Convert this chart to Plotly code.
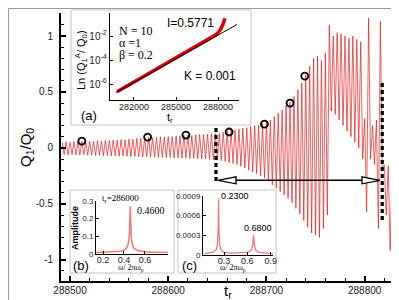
import plotly.graph_objects as go

# ---------------- data ----------------
# main signal: successive extrema (peak, trough, ...) of Q1/Q0 versus t_r
t_ext = [
    288492, 288494, 288496, 288498, 288500, 288502, 288504, 288506, 288508, 288510,
    288512, 288514, 288516, 288518, 288520, 288522, 288524, 288526, 288528, 288530,
    288532, 288534, 288536, 288538, 288540, 288542, 288544, 288546, 288548, 288550,
    288552, 288554, 288556, 288558, 288560, 288562, 288564, 288566, 288568, 288570,
    288572, 288574, 288576, 288578, 288580, 288582, 288584, 288586, 288588, 288590,
    288592, 288594, 288596, 288598, 288600, 288602, 288604, 288606, 288608, 288610,
    288612, 288614, 288616, 288618, 288620, 288622, 288624, 288626, 288628, 288630,
    288632, 288634, 288636, 288638, 288640, 288642, 288644, 288646, 288648, 288650,
    288652, 288654, 288656, 288658, 288660, 288662, 288664, 288666, 288668, 288670,
    288672, 288674, 288676, 288678, 288680, 288682, 288684, 288686, 288688, 288690,
    288692, 288694, 288696, 288698, 288700, 288702, 288704, 288706, 288708, 288710,
    288712, 288714, 288716, 288718, 288720, 288722, 288724, 288726, 288728, 288730,
    288732, 288734, 288736, 288738, 288740, 288742, 288744, 288746, 288748, 288750,
    288752, 288754, 288756, 288758, 288760, 288762, 288764, 288766, 288768, 288770,
    288772, 288774, 288776, 288778, 288780, 288782, 288784, 288786, 288788, 288790,
    288792, 288794, 288796, 288798, 288800, 288802, 288804, 288806, 288808, 288810,
    288812, 288814, 288816, 288818, 288820, 288822, 288824, 288826, 288828, 288830,
    288832, 288834, 288836, 288838, 288840, 288842,
]
q_ext = [
    0.050, -0.060, 0.055, -0.065, 0.050, -0.060, 0.058, -0.062, 0.055, -0.065,
    0.062, -0.060, 0.055, -0.066, 0.060, -0.064, 0.058, -0.068, 0.065, -0.066,
    0.060, -0.070, 0.068, -0.068, 0.065, -0.072, 0.070, -0.070, 0.068, -0.074,
    0.075, -0.072, 0.072, -0.075, 0.080, -0.078, 0.078, -0.076, 0.085, -0.080,
    0.088, -0.082, 0.092, -0.080, 0.097, -0.084, 0.090, -0.082, 0.095, -0.085,
    0.100, -0.083, 0.098, -0.087, 0.102, -0.085, 0.100, -0.090, 0.105, -0.088,
    0.108, -0.092, 0.112, -0.090, 0.115, -0.095, 0.110, -0.093, 0.115, -0.097,
    0.120, -0.100, 0.118, -0.098, 0.122, -0.102, 0.125, -0.105, 0.128, -0.108,
    0.130, -0.115, 0.140, -0.120, 0.150, -0.130, 0.155, -0.140, 0.160, -0.150,
    0.170, -0.165, 0.175, -0.180, 0.180, -0.200, 0.190, -0.215, 0.200, -0.230,
    0.205, -0.250, 0.215, -0.270, 0.230, -0.300, 0.250, -0.330, 0.280, -0.360,
    0.310, -0.390, 0.340, -0.420, 0.380, -0.450, 0.410, -0.490, 0.460, -0.540,
    0.520, -0.590, 0.580, -0.650, 0.650, -0.710, 0.730, -0.760, 0.800, -0.780,
    0.820, -0.800, 0.780, -0.720, 0.850, -0.600, 1.100, 0.330, 1.000, 0.300,
    1.030, 0.250, 1.020, 0.200, 1.000, 0.150, 0.980, 0.100, 1.000, 0.050,
    0.970, 0.000, 0.950, -0.100, 0.260, -0.570, 1.160, -0.100, 0.200, -0.150,
    0.250, -0.720, 1.130, -0.200, -0.150, -0.600, -0.160, -0.920, -0.150, -1.100,
    -0.140, -0.950, -0.180, -1.100, -0.170, -1.050,
]
circle_t = [288512, 288579, 288618, 288662, 288698, 288724, 288739]
circle_q = [0.061, 0.097, 0.115, 0.142, 0.213, 0.401, 0.642]

main_xticks = [288500, 288600, 288700, 288800]
main_xlabels = ["288500", "288600", "288700", "288800"]
main_yticks = [-1, -0.5, 0, 0.5, 1]
main_ylabels = ["-1", "-0.5", "0", "0.5", "1"]

# markers of the interval (dashed lines) and arrow
dash1_t, dash1_q = 288648.6, [0.177, -0.314]
dash2_t, dash2_q = 288817.9, [0.58, -0.645]
arrow_t = [288650.7, 288815.6]
arrow_q = -0.29

# inset (a): growth of Q1^A/Q0 (log scale)
a_t = [280790, 282000, 283000, 284000, 285000, 286000, 287000, 287500, 287900, 288150, 288350, 288500]
a_q = [2.3e-7, 1.5e-6, 7.0e-6, 3.2e-5, 1.45e-4, 6.6e-4, 3.0e-3, 6.5e-3, 1.4e-2, 3.2e-2, 9.0e-2, 3.0e-1]
fit_t = [280715, 289354]
fit_q = [1.95e-7, 9.1e-2]
a_xticks = [282000, 285000, 288000]
a_xlabels = ["282000", "285000", "288000"]
a_yticks = [1e-6, 1e-4, 1e-2]
a_ylabels = ["10<sup>-6</sup>", "10<sup>-4</sup>", "10<sup>-2</sup>"]

# inset (b): spectrum at t_r = 286000
b_f = [0.13, 0.20, 0.30, 0.36, 0.40, 0.42, 0.44, 0.45, 0.455, 0.46, 0.465, 0.47, 0.48, 0.50, 0.53, 0.60, 0.70, 0.82]
b_a = [0.008, 0.010, 0.012, 0.016, 0.022, 0.030, 0.055, 0.10, 0.18, 0.27, 0.17, 0.09, 0.05, 0.03, 0.02, 0.013, 0.010, 0.008]
b_xticks = [0.2, 0.4, 0.6]
b_yticks = [0, 0.1, 0.2, 0.3]
b_ylabels = ["0", "0.1", "0.2", "0.3"]

# inset (c): spectrum inside the interval
c_f = [0.05, 0.10, 0.15, 0.20, 0.215, 0.225, 0.23, 0.235, 0.245, 0.26, 0.30, 0.40, 0.50, 0.60, 0.65, 0.67, 0.68, 0.69, 0.71, 0.75, 0.85, 0.93]
c_a = [0.00002, 0.00003, 0.00004, 0.00008, 0.00015, 0.0004, 0.00086, 0.0004, 0.00015, 0.00008, 0.00004, 0.00003,
       0.00003, 0.00004, 0.00007, 0.00015, 0.0003, 0.00015, 0.00007, 0.00004, 0.00003, 0.00002]
c_xticks = [0.3, 0.6, 0.9]
c_yticks = [0, 0.0003, 0.0006, 0.0009]
c_ylabels = ["0", "0.0003", "0.0006", "0.0009"]

# ---------------- layout helpers ----------------
W, H = 399, 300
ML, MR, MT, MB = 53, 1, 5, 27
PW, PH = W - ML - MR, H - MT - MB


def px(x):
    return (x - ML) / PW


def py(y):
    return (H - MB - y) / PH


SANS = "Liberation Sans, Arial, sans-serif"
SERIF = "Liberation Serif, Times New Roman, serif"
PINK = "#f07a7a"

fig = go.Figure()

fig.add_trace(go.Scatter(x=t_ext, y=q_ext, mode="lines",
                         line=dict(color="rgba(226,24,24,0.85)", width=0.8),
                         xaxis="x", yaxis="y", showlegend=False))
fig.add_trace(go.Scatter(x=circle_t, y=circle_q, mode="markers",
                         marker=dict(symbol="circle-open", size=7, color="black", line=dict(width=1.8)),
                         xaxis="x", yaxis="y", showlegend=False))

# inset (a)
fig.add_trace(go.Scatter(x=a_t, y=a_q, mode="lines", line=dict(color="#d80000", width=3.5),
                         xaxis="x2", yaxis="y2", showlegend=False))
fig.add_trace(go.Scatter(x=fit_t, y=fit_q, mode="lines", line=dict(color="black", width=1),
                         xaxis="x2", yaxis="y2", showlegend=False))
# inset (b)
fig.add_trace(go.Scatter(x=b_f, y=b_a, mode="lines", line=dict(color=PINK, width=1.5),
                         xaxis="x3", yaxis="y3", showlegend=False))
# inset (c)
fig.add_trace(go.Scatter(x=c_f, y=c_a, mode="lines", line=dict(color=PINK, width=1.3),
                         xaxis="x4", yaxis="y4", showlegend=False))


def inset_axis(**kw):
    base = dict(showline=True, linecolor="black", linewidth=1, ticks="inside", ticklen=3,
                tickcolor="black", tickwidth=1, showgrid=False, zeroline=False, automargin=False,
                tickfont=dict(family=SANS, size=8, color="#222"), tickmode="array")
    base.update(kw)
    return base


fig.update_layout(
    width=W, height=H, margin=dict(l=ML, r=MR, t=MT, b=MB, autoexpand=False),
    paper_bgcolor="white", plot_bgcolor="white", showlegend=False,
    xaxis=dict(domain=[0, 1], anchor="y", range=[288490.8, 288842.1], automargin=False,
               tickmode="array", tickvals=main_xticks, ticktext=main_xlabels,
               ticks="inside", ticklen=5, tickwidth=1.5, tickcolor="black",
               minor=dict(tickmode="linear", tick0=288500, dtick=20, ticks="inside", ticklen=3,
                          tickcolor="black", tickwidth=1),
               showline=True, linecolor="black", linewidth=2, showgrid=False, zeroline=False,
               ticklabelstandoff=-1,
               tickfont=dict(family=SANS, size=10, color="#222")),
    yaxis=dict(domain=[0, 1], anchor="x", range=[-1.19, 1.206], automargin=False,
               tickmode="array", tickvals=main_yticks, ticktext=main_ylabels,
               ticks="inside", ticklen=5, tickwidth=1.5, tickcolor="black",
               minor=dict(tickmode="linear", tick0=0, dtick=0.1, ticks="inside", ticklen=3,
                          tickcolor="black", tickwidth=1),
               showline=True, linecolor="black", linewidth=2, showgrid=False, zeroline=False,
               ticklabelstandoff=4,
               tickfont=dict(family=SANS, size=10, color="#222")),
    xaxis2=inset_axis(domain=[px(101.7), px(231)], anchor="y2", range=[280265, 289500],
                      tickvals=a_xticks, ticktext=a_xlabels, ticklabelstandoff=-2,
                      tickfont=dict(family=SANS, size=9, color="#222")),
    yaxis2=inset_axis(domain=[py(92), py(5)], anchor="x2", type="log", range=[-7.33, -0.08],
                      tickvals=a_yticks, ticktext=a_ylabels,
                      tickfont=dict(family=SANS, size=10, color="#222")),
    xaxis3=inset_axis(domain=[px(88), px(160)], anchor="y3", range=[0.133, 0.82],
                      tickvals=b_xticks, ticktext=["0.2", "0.4", "0.6"], ticklabelstandoff=-3,
                      tickfont=dict(family=SANS, size=9, color="#222")),
    yaxis3=inset_axis(domain=[py(246), py(193)], anchor="x3", range=[0, 0.3],
                      tickvals=b_yticks, ticktext=b_ylabels),
    xaxis4=inset_axis(domain=[px(195), px(265)], anchor="y4", range=[0.03, 0.93],
                      tickvals=c_xticks, ticktext=["0.3", "0.6", "0.9"], ticklabelstandoff=-3,
                      tickfont=dict(family=SANS, size=9, color="#222")),
    yaxis4=inset_axis(domain=[py(247), py(188)], anchor="x4", range=[0, 0.0009],
                      tickvals=c_yticks, ticktext=c_ylabels),
)

shapes = []
# outer frame
shapes.append(dict(type="rect", xref="paper", yref="paper", x0=px(0.5), x1=px(398.5), y0=py(299.5), y1=py(0.5),
                   line=dict(color="#9a9a9a", width=1), fillcolor="rgba(0,0,0,0)", layer="below"))
# inset boxes
for (x0, y0, x1, y1) in [(63, 2, 243, 117), (62, 182, 166, 265), (170, 182, 268, 265)]:
    shapes.append(dict(type="rect", xref="paper", yref="paper", x0=px(x0), x1=px(x1), y0=py(y1), y1=py(y0),
                       line=dict(color="#c4c4c4", width=1), fillcolor="white", layer="below"))
# dashed vertical lines
for t0, qq in [(dash1_t, dash1_q), (dash2_t, dash2_q)]:
    shapes.append(dict(type="line", xref="x", yref="y", x0=t0, x1=t0, y0=qq[0], y1=qq[1],
                       line=dict(color="black", width=3.2, dash="4px,3px")))
# arrow shaft
shapes.append(dict(type="line", xref="x", yref="y", x0=arrow_t[0] + 15, x1=arrow_t[1] - 15, y0=arrow_q, y1=arrow_q,
                   line=dict(color="black", width=1.5)))
# arrow heads (open triangles): 1 px = 1.018 t-units horizontally, 0.00894 q-units vertically
hx, hy = 18 * 1.018, 3.5 * 0.00894
l0, r0 = arrow_t
shapes.append(dict(type="path", xref="x", yref="y",
                   path=f"M {l0},{arrow_q} L {l0 + hx},{arrow_q + hy} L {l0 + hx},{arrow_q - hy} Z",
                   line=dict(color="black", width=1.3), fillcolor="white"))
shapes.append(dict(type="path", xref="x", yref="y",
                   path=f"M {r0},{arrow_q} L {r0 - hx},{arrow_q + hy} L {r0 - hx},{arrow_q - hy} Z",
                   line=dict(color="black", width=1.3), fillcolor="white"))
fig.update_layout(shapes=shapes)


def ann(text, x, y, size=10, family=SANS, xanchor="left", angle=0, color="black"):
    return dict(text=text, x=px(x), y=py(y), xref="paper", yref="paper", showarrow=False,
                xanchor=xanchor, yanchor="middle", textangle=angle,
                font=dict(family=family, size=size, color=color))


annotations = [
    ann("Q<sub>1</sub>/Q<sub>0</sub>", 18, 140, size=15, xanchor="center", angle=-90),
    ann("t<sub>r</sub>", 220, 283, size=15, xanchor="center"),
    # inset (a)
    ann("Ln (Q<sub>1</sub><sup>A</sup>/ Q<sub>0</sub>)", 73, 52, size=11, xanchor="center", angle=-90),
    ann("t<sub>r</sub>", 162, 110, size=11, xanchor="center"),
    ann("N = 10", 109, 23, size=12, family=SERIF),
    ann("α =1", 109, 35, size=12, family=SERIF),
    ann("β = 0.2", 109, 47, size=12, family=SERIF),
    ann("I=0.5771", 157, 15, size=12),
    ann("K = 0.001", 174, 68, size=12),
    ann("(a)", 71, 107, size=13),
    # inset (b)
    ann("t<sub>r</sub>=286000", 92, 190, size=9, family=SERIF),
    ann("0.4600", 127, 202, size=10, family=SERIF),
    ann("<b>Amplitude</b>", 67, 220, size=9, xanchor="center", angle=-90),
    ann("ω/ 2πω<sub>p</sub>", 123, 260, size=8, family=SERIF, xanchor="center"),
    ann("(b)", 63, 257, size=13),
    # inset (c)
    ann("0.2300", 211, 188, size=9),
    ann("0.6800", 234, 220, size=9),
    ann("ω/ 2πω<sub>p</sub>", 225, 260, size=8, family=SERIF, xanchor="center"),
    ann("(c)", 172, 257, size=13),
]
fig.update_layout(annotations=annotations)

fig.write_html("out.html")
